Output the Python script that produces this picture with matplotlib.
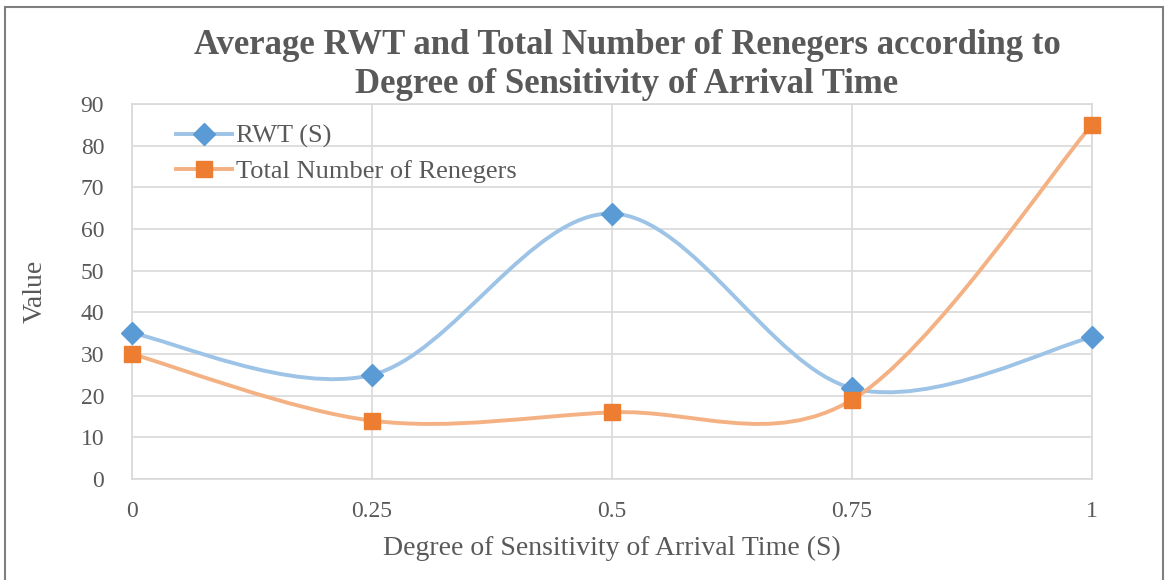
import matplotlib.pyplot as plt
from matplotlib.path import Path
from matplotlib.patches import PathPatch, Rectangle
from matplotlib.lines import Line2D

# data
sensitivity = [0, 0.25, 0.5, 0.75, 1]
rwt = [35, 25, 63.7, 21.8, 34]
renegers = [30, 14, 16, 19, 85]
tick_labels = ["0", "0.25", "0.5", "0.75", "1"]

text_col = "#595959"
grid_col = "#D9D9D9"
plt.rcParams['font.family'] = ['Liberation Serif', 'DejaVu Serif']


def smooth_path(xs, ys):
    # Excel-like smoothed line: cubic bezier through every point
    verts = [(xs[0], ys[0])]
    codes = [Path.MOVETO]
    n = len(xs)
    for i in range(n - 1):
        x0, y0 = xs[max(i - 1, 0)], ys[max(i - 1, 0)]
        x1, y1 = xs[i], ys[i]
        x2, y2 = xs[i + 1], ys[i + 1]
        x3, y3 = xs[min(i + 2, n - 1)], ys[min(i + 2, n - 1)]
        c1 = (x1 + (x2 - x0) / 6, y1 + (y2 - y0) / 6)
        c2 = (x2 - (x3 - x1) / 6, y2 - (y3 - y1) / 6)
        verts += [c1, c2, (x2, y2)]
        codes += [Path.CURVE4] * 3
    return Path(verts, codes)


fig = plt.figure(figsize=(11.7, 5.8), dpi=100)
ax = fig.add_axes([132 / 1170, 101 / 580, 960 / 1170, 375 / 580])

series = [
    (rwt, "RWT (S)", "#9DC3E6", "#5B9BD5", "D", 11),
    (renegers, "Total Number of Renegers", "#F4B183", "#ED7D31", "s", 12),
]
handles = []
for vals, name, lc, mc, mk, ms in series:
    ax.add_patch(PathPatch(smooth_path(sensitivity, vals), fill=False,
                           edgecolor=lc, lw=2.8, zorder=3))
    ax.plot(sensitivity, vals, ls="none", marker=mk, ms=ms, color=mc,
            zorder=4, clip_on=False)
    handles.append(Line2D([], [], color=lc, lw=2.8, marker=mk, ms=ms,
                          markerfacecolor=mc, markeredgecolor=mc))

ax.set_xlim(0, 1)
ax.set_ylim(0, 90)
ax.set_xticks(sensitivity)
ax.set_xticklabels(tick_labels)
ax.set_yticks(range(0, 91, 10))
ax.grid(True, color=grid_col, lw=1.2)
ax.set_axisbelow(True)
for s in ax.spines.values():
    s.set_color(grid_col)
    s.set_linewidth(1.2)
ax.tick_params(length=0, labelsize=17, colors=text_col)
ax.tick_params(axis="y", pad=20)
ax.tick_params(axis="x", pad=16)

ax.set_xlabel("Degree of Sensitivity of Arrival Time (S)", fontsize=20,
              color=text_col)
ax.xaxis.set_label_coords(0.5, -(548 - 479) / 375, transform=ax.transAxes)
ax.set_ylabel("Value", fontsize=20, color=text_col)
ax.yaxis.set_label_coords(-(132 - 35) / 960, 0.5, transform=ax.transAxes)
ax.xaxis.label.set_va("center")
ax.yaxis.label.set_va("center")

ax.legend(handles, [h[1] for h in series], loc="upper left",
          bbox_to_anchor=(33 / 960, 1 - 10 / 375), frameon=False, fontsize=19,
          handlelength=2.15, handletextpad=0.15, labelcolor=text_col,
          borderaxespad=0, labelspacing=0.42, numpoints=1)

fig.text(627 / 1170, 1 - 65 / 580,
         "Average RWT and Total Number of Renegers according to\n"
         "Degree of Sensitivity of Arrival Time",
         ha="center", va="center", fontsize=25, fontweight="bold",
         color=text_col, linespacing=1.25)

fig.patches.append(Rectangle((5 / 1170, -0.01), 1158 / 1170, 1 - 7 / 580 + 0.01,
                             transform=fig.transFigure, fill=False,
                             edgecolor="#7F7F7F", lw=1.5))

fig.savefig("out.png", dpi=100)
